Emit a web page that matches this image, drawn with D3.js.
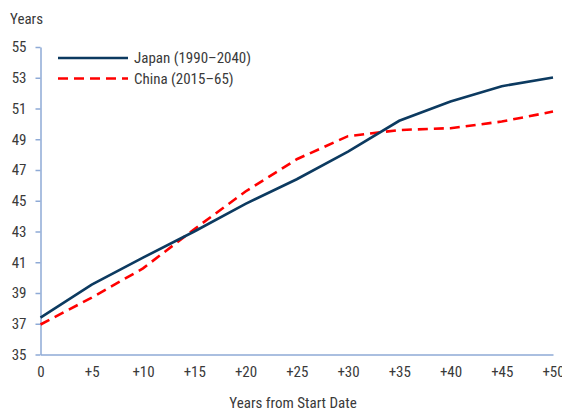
<!DOCTYPE html>
<html><head><meta charset="utf-8">
<script src="https://cdn.jsdelivr.net/npm/d3@7"></script>
<style>
body{margin:0;background:#fff;}
text{font-family:"Liberation Sans Narrow","Roboto Condensed","Roboto",sans-serif;fill:#3a3a3a;}
</style></head>
<body><svg id="c" width="562" height="411"></svg>
<script>
const offsets = [0,5,10,15,20,25,30,35,40,45,50];
const tickLabels = ["0","+5","+10","+15","+20","+25","+30","+35","+40","+45","+50"];
const japan = [37.4,39.55,41.3,43.0,44.8,46.4,48.2,50.2,51.45,52.45,53.02];
const china = [36.95,38.7,40.6,43.15,45.6,47.7,49.2,49.6,49.72,50.15,50.8];
const yTicks = [35,37,39,41,43,45,47,49,51,53,55];
const seriesNames = ["Japan (1990\u20132040)","China (2015\u201365)"];

const svg = d3.select("#c");
const x = d3.scaleLinear().domain([0,50]).range([40.5,553]);
const y = d3.scaleLinear().domain([35,55]).range([354.5,47]);
const axisColor = "#8eaad6";

// y axis
const ya = svg.append("g").attr("transform","translate(40.5,0)")
  .call(d3.axisLeft(y).tickValues(yTicks).tickSize(5).tickPadding(9).tickSizeOuter(0));
ya.select(".domain").attr("stroke",axisColor).attr("stroke-width",1.5);
ya.selectAll(".tick line").attr("stroke",axisColor).attr("stroke-width",1.5);
ya.selectAll("text").style("font-size","15px").attr("fill","#3a3a3a");

// x axis
const xa = svg.append("g").attr("transform","translate(0,354.5)")
  .call(d3.axisBottom(x).tickValues(offsets).tickFormat((d,i)=>tickLabels[i]).tickSize(0).tickPadding(12).tickSizeOuter(0));
xa.select(".domain").attr("stroke",axisColor).attr("stroke-width",1.5);
xa.selectAll("text").style("font-size","15px").attr("fill","#3a3a3a");

const line = d3.line().x((d,i)=>x(offsets[i])).y(d=>y(d));
svg.append("path").datum(china).attr("d",line).attr("fill","none")
  .attr("stroke","#ff0000").attr("stroke-width",2.6).attr("stroke-dasharray","10,6");
svg.append("path").datum(japan).attr("d",line).attr("fill","none")
  .attr("stroke","#0c3a60").attr("stroke-width",2.6);

// legend
const lg = svg.append("g");
lg.append("line").attr("x1",58).attr("x2",128).attr("y1",58).attr("y2",58)
  .attr("stroke","#0c3a60").attr("stroke-width",2.6);
lg.append("line").attr("x1",58).attr("x2",128).attr("y1",78.5).attr("y2",78.5)
  .attr("stroke","#ff0000").attr("stroke-width",2.6).attr("stroke-dasharray","10,6");
lg.append("text").attr("x",134).attr("y",63).style("font-size","15px").text(seriesNames[0]);
lg.append("text").attr("x",134).attr("y",84).style("font-size","15px").text(seriesNames[1]);

svg.append("text").attr("x",10).attr("y",24).style("font-size","15px").text("Years");
svg.append("text").attr("x",293).attr("y",408).attr("text-anchor","middle").style("font-size","15px").text("Years from Start Date");
</script></body></html>
